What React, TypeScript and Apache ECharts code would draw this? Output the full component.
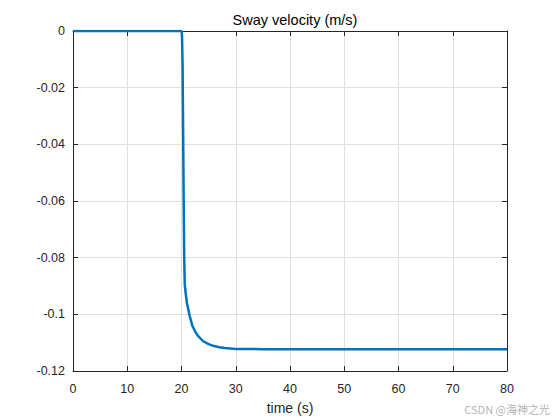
import React, { useEffect, useRef } from 'react';
import * as echarts from 'echarts';

// time (s) and sway velocity (m/s)
const timeValues = [
  0, 20, 20.1, 20.2, 20.3, 20.4, 20.5, 20.6, 20.8, 21, 21.5, 22, 22.5, 23, 24, 25, 26, 27, 28, 30, 35, 40, 80,
];
const swayValues = [
  0, 0, -0.002, -0.012, -0.035, -0.06, -0.08, -0.0895, -0.093, -0.096, -0.1005, -0.104, -0.106, -0.1075,
  -0.1095, -0.1105, -0.1112, -0.1116, -0.1119, -0.1122, -0.1123, -0.1123, -0.1123,
];
const xTicks = [0, 10, 20, 30, 40, 50, 60, 70, 80];
const yTicks = [-0.12, -0.1, -0.08, -0.06, -0.04, -0.02, 0];

const FONT = '"Liberation Sans", Arial, sans-serif';
const TEXT = '#262626';

export default function App() {
  const chartRef = useRef<HTMLDivElement>(null);

  useEffect(() => {
    if (!chartRef.current) return;
    const chart = echarts.init(chartRef.current, undefined, { renderer: 'svg' });

    const fmtY = (v: number) => String(Math.round(v * 100) / 100);

    const axisCommon = {
      axisLine: { show: true, onZero: false, lineStyle: { color: TEXT, width: 1 } },
      axisTick: { show: true, inside: true, length: 5, lineStyle: { color: TEXT } },
    };

    chart.setOption({
      animation: false,
      backgroundColor: '#ffffff',
      textStyle: { fontFamily: FONT },
      title: {
        text: 'Sway velocity (m/s)',
        left: 290,
        top: 7,
        textAlign: 'center',
        textStyle: { fontFamily: FONT, fontSize: 14.5, fontWeight: 'normal', color: '#000' },
      },
      grid: { left: 73, right: 53, top: 31, bottom: 46, show: false },
      xAxis: [
        {
          type: 'value',
          min: xTicks[0],
          max: xTicks[xTicks.length - 1],
          interval: 10,
          position: 'bottom',
          name: 'time (s)',
          nameLocation: 'middle',
          nameGap: 30,
          nameTextStyle: { fontFamily: FONT, fontSize: 14, color: TEXT },
          ...axisCommon,
          axisLabel: { fontFamily: FONT, fontSize: 12.5, color: TEXT, margin: 11 },
          splitLine: { show: true, lineStyle: { color: '#dfdfdf', width: 1 } },
        },
        {
          type: 'value',
          min: xTicks[0],
          max: xTicks[xTicks.length - 1],
          interval: 10,
          position: 'top',
          ...axisCommon,
          axisLabel: { show: false },
          splitLine: { show: false },
        },
      ],
      yAxis: [
        {
          type: 'value',
          min: yTicks[0],
          max: yTicks[yTicks.length - 1],
          interval: 0.02,
          position: 'left',
          ...axisCommon,
          axisLabel: {
            fontFamily: FONT,
            fontSize: 12.5,
            color: TEXT,
            margin: 8,
            padding: [2, 0, 0, 0],
            formatter: fmtY,
          },
          splitLine: { show: true, lineStyle: { color: '#dfdfdf', width: 1 } },
        },
        {
          type: 'value',
          min: yTicks[0],
          max: yTicks[yTicks.length - 1],
          interval: 0.02,
          position: 'right',
          ...axisCommon,
          axisLabel: { show: false },
          splitLine: { show: false },
        },
      ],
      graphic: [
        {
          type: 'text',
          right: 10,
          top: 403,
          style: {
            text: 'CSDN @海神之光',
            font: '11px "Noto Sans CJK SC", "Liberation Sans", sans-serif',
            fill: '#b4b4b4',
          },
        },
      ],
      series: [
        {
          type: 'line',
          xAxisIndex: 0,
          yAxisIndex: 0,
          data: timeValues.map((t, i) => [t, swayValues[i]]),
          showSymbol: false,
          symbol: 'none',
          smooth: false,
          lineStyle: { color: '#0072BD', width: 2.5 },
          z: 3,
        },
      ],
    });

    return () => chart.dispose();
  }, []);

  return (
    <div
      ref={chartRef}
      style={{ position: 'absolute', left: 0, top: 0, width: 560, height: 420 }}
    />
  );
}
